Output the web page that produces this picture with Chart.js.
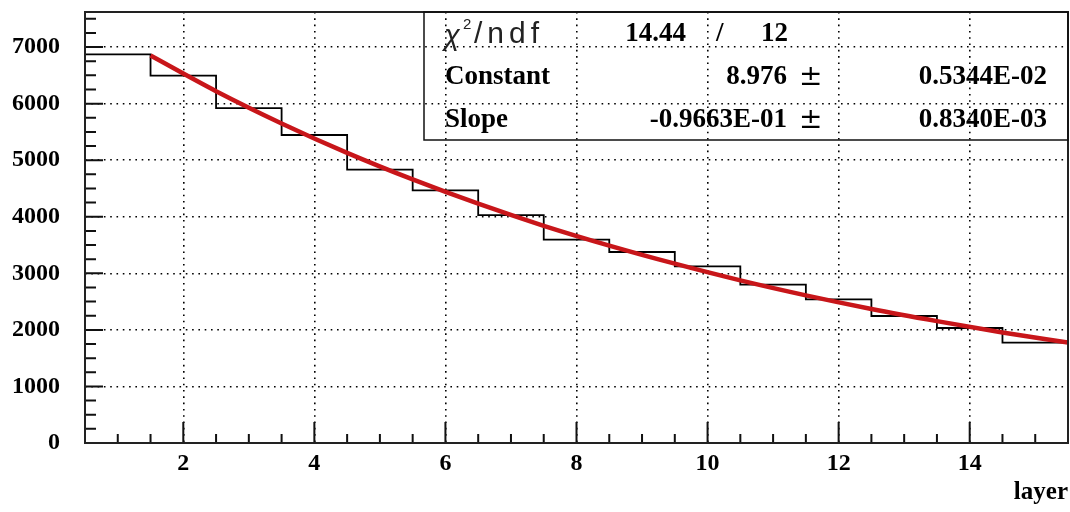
<!DOCTYPE html>
<html><head><meta charset="utf-8">
<script src="https://cdn.jsdelivr.net/npm/chart.js@4.4.0/dist/chart.umd.min.js"></script>
<style>html,body{margin:0;padding:0;background:#fff;overflow:hidden}#wrap{width:1070px;height:512px;position:relative}</style>
</head><body><div id="wrap"><canvas id="c" width="1070" height="512"></canvas></div>
<script>
// ---- data ----
const binCenters = [1, 2, 3, 4, 5, 6, 7, 8, 9, 10, 11, 12, 13, 14, 15];
const binValues  = [6870, 6495, 5922, 5445, 4833, 4466, 4030, 3597, 3377, 3124, 2800, 2540, 2245, 2033, 1775];
const fitX = [1.5, 2.5, 3.5, 4.5, 5.5, 6.5, 7.5, 8.5, 9.5, 10.5, 11.5, 12.5, 13.5, 14.5, 15.5];
const fitY = [6850, 6220, 5650, 5130, 4660, 4230, 3840, 3490, 3170, 2875, 2610, 2370, 2155, 1955, 1775];
const xTickValues = [2, 4, 6, 8, 10, 12, 14];
const yTickValues = [0, 1000, 2000, 3000, 4000, 5000, 6000, 7000];
const xTitle = 'layer';
const statsNames  = ['Constant', 'Slope'];
const statsValues = ['8.976', '-0.9663E-01'];
const statsErrors = ['0.5344E-02', '0.8340E-03'];
const chi2Value = '14.44';
const ndfValue = '12';

const histPoints = binCenters.map((c, i) => ({x: c - 0.5, y: binValues[i]}));
histPoints.push({x: binCenters[binCenters.length - 1] + 0.5, y: binValues[binValues.length - 1]});
const fitPoints = fitX.map((v, i) => ({x: v, y: fitY[i]}));

const SERIF = '"Liberation Serif", "Times New Roman", serif';

const decor = {
  id: 'decor',
  afterDatasetsDraw(chart) {
    const {ctx, chartArea: a, scales: {x, y}} = chart;
    ctx.save();
    // inner ticks
    ctx.strokeStyle = '#111';
    ctx.lineWidth = 2;
    ctx.beginPath();
    for (let v = x.min + 0.5; v < x.max - 0.01; v += 0.5) {
      const px = x.getPixelForValue(v);
      const len = xTickValues.includes(v) ? 21 : 9;
      ctx.moveTo(px, a.bottom);
      ctx.lineTo(px, a.bottom - len);
    }
    for (let v = 250; v < y.max; v += 250) {
      const py = y.getPixelForValue(v);
      const len = (v % 1000 === 0) ? 18 : 11;
      ctx.moveTo(a.left, py);
      ctx.lineTo(a.left + len, py);
    }
    ctx.stroke();
    // frame
    ctx.lineWidth = 2;
    ctx.strokeStyle = '#222';
    ctx.strokeRect(a.left, a.top, a.right - a.left, a.bottom - a.top);

    // stats box
    const bx = 424, by = a.top, bw = a.right - 424, bh = 140 - a.top;
    ctx.lineWidth = 1.5;
    ctx.strokeStyle = '#111';
    ctx.strokeRect(bx, by, bw, bh);

    ctx.textBaseline = 'middle';
    // row 1
    ctx.fillStyle = '#222';
    ctx.textAlign = 'left';
    ctx.font = 'italic 29px "Liberation Sans", sans-serif';
    ctx.fillText('\u03C7', 444, 37);
    ctx.font = '15px "Liberation Sans", sans-serif';
    ctx.fillText('2', 463, 25);
    ctx.font = '30px "Liberation Sans", sans-serif';
    ctx.letterSpacing = '5px';
    ctx.fillText('/ndf', 474, 35);
    ctx.letterSpacing = '0px';
    ctx.fillStyle = '#000';
    ctx.font = 'bold 27px ' + SERIF;
    ctx.textAlign = 'right';
    ctx.fillText(chi2Value, 686, 34);
    ctx.textAlign = 'left';
    ctx.fillText('/', 716, 34);
    ctx.textAlign = 'right';
    ctx.fillText(ndfValue, 788, 34);
    // rows 2,3
    const rowY = [77, 120];
    for (let i = 0; i < statsNames.length; i++) {
      ctx.font = 'bold 27px ' + SERIF;
      ctx.textAlign = 'left';
      ctx.fillText(statsNames[i], 445, rowY[i]);
      ctx.textAlign = 'right';
      ctx.fillText(statsValues[i], 787, rowY[i]);
      ctx.fillText(statsErrors[i], 1047, rowY[i]);
      ctx.font = '28px "DejaVu Serif", serif';
      ctx.textAlign = 'left';
      ctx.fillText('\u00B1', 799, rowY[i] + 1);
    }
    ctx.restore();
  }
};

new Chart(document.getElementById('c'), {
  type: 'line',
  data: {
    datasets: [
      {
        label: 'fit', data: fitPoints, borderColor: '#c8161a', borderWidth: 4.5,
        pointRadius: 0, fill: false, cubicInterpolationMode: 'monotone', order: 0
      },
      {
        label: 'hist', data: histPoints, borderColor: '#000', borderWidth: 1.8,
        pointRadius: 0, fill: false, stepped: true, order: 1
      }
    ]
  },
  options: {
    responsive: false,
    animation: false,
    events: [],
    layout: {padding: {top: 12, right: 2, left: 0, bottom: 0}},
    plugins: {legend: {display: false}, tooltip: {enabled: false}},
    scales: {
      x: {
        type: 'linear', min: 0.5, max: 15.5,
        afterFit(s) { s.height = 69; s.paddingLeft = 0; s.paddingRight = 0; s.paddingTop = 0; s.paddingBottom = 0; },
        afterBuildTicks(s) { s.ticks = xTickValues.map(v => ({value: v})); },
        grid: {color: '#000', lineWidth: 1.6, drawTicks: false},
        border: {display: false, dash: [1.6, 4.7]},
        ticks: {color: '#000', padding: 6, font: {family: SERIF, size: 24, weight: 'bold'}, maxRotation: 0},
        title: {display: true, text: xTitle, align: 'end', color: '#000', padding: {top: 0, bottom: 4},
                font: {family: SERIF, size: 25, weight: 'bold'}}
      },
      y: {
        type: 'linear', min: 0, max: 7620,
        afterFit(s) { s.width = 85; s.paddingLeft = 0; s.paddingRight = 0; s.paddingTop = 0; s.paddingBottom = 0; },
        afterBuildTicks(s) { s.ticks = yTickValues.map(v => ({value: v})); },
        grid: {color: '#000', lineWidth: 1.6, drawTicks: false},
        border: {display: false, dash: [1.6, 4.7]},
        ticks: {color: '#000', padding: 25, font: {family: SERIF, size: 24, weight: 'bold'},
                callback: v => String(v)}
      }
    }
  },
  plugins: [decor]
});
</script>
</body></html>
